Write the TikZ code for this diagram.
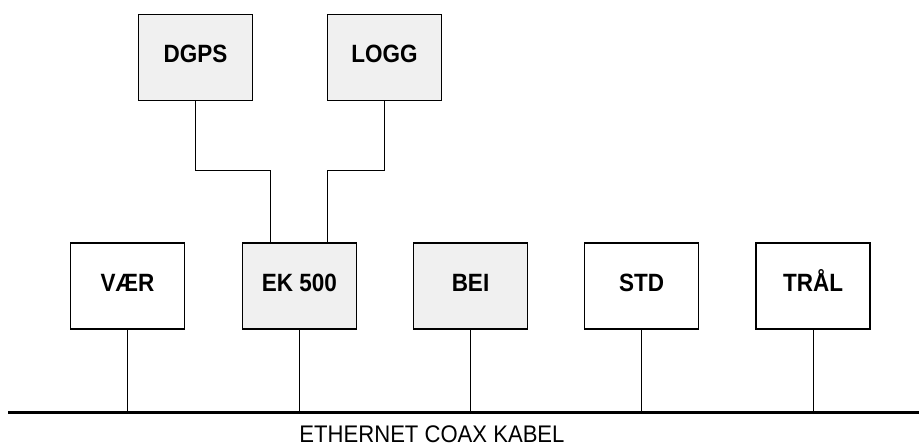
\documentclass[tikz,border=0pt]{standalone}
\usepackage{fontspec}
\setmainfont{Liberation Sans}
\newfontfamily\boxfont[FakeStretch=0.9]{Liberation Sans}
\newfontfamily\busfont[FakeStretch=0.92]{Liberation Sans}
\begin{document}
\begin{tikzpicture}[x=1pt, y=-1pt,
    unit/.style={draw, line width=1.2pt, minimum width=114pt, minimum height=86pt,
      inner sep=0pt, text height=18pt, text depth=8pt,
      font=\boxfont\bfseries\fontsize{25}{25}\selectfont},
    shaded/.style={unit, fill=black!6},
    wire/.style={line width=0.8pt}]
    \useasboundingbox (0,0) rectangle (919,447);

    % Units on top
    \node[shaded] (dgps) at (195.5,57.5) {DGPS};
    \node[shaded] (logg) at (384.5,57.5) {LOGG};

    % Units on the bus
    \node[unit]   (vaer) at (127.5,286) {VÆR};
    \node[shaded] (ek)   at (299.5,286) {EK 500};
    \node[shaded] (bei)  at (470.5,286) {BEI};
    \node[unit]   (std)  at (641.5,286) {STD};
    \node[unit]   (tral) at (813,286)   {TRÅL};

    % Links to EK 500
    \coordinate (ekl) at ([xshift=-29pt]ek.north);
    \coordinate (ekr) at ([xshift=28pt]ek.north);
    \draw[wire] (dgps.south) |- ([yshift=72pt]ekl) -- (ekl);
    \draw[wire] (logg.south) |- ([yshift=72pt]ekr) -- (ekr);

    % Coax cable
    \coordinate (busL) at (8,412);
    \coordinate (busR) at (919,412);
    \draw[line width=3pt] (busL) -- (busR);
    \foreach \n in {vaer, ek, bei, std, tral}
      \draw[wire] (\n.south) -- (\n.south |- busL);

    \node[anchor=base, inner sep=0pt, font=\busfont\fontsize{24}{24}\selectfont] (kabel) at (432,442) {ETHERNET COAX KABEL};
\end{tikzpicture}
\end{document}
